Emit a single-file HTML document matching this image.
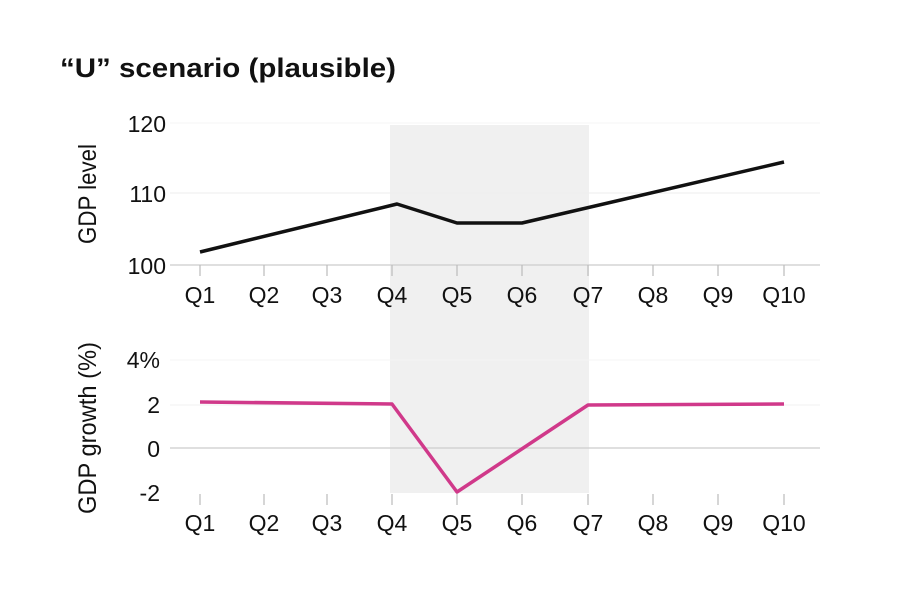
<!DOCTYPE html>
<html><head><meta charset="utf-8"><style>
html,body{margin:0;padding:0;background:#fff;}
</style></head><body>
<svg width="900" height="600" viewBox="0 0 900 600" xmlns="http://www.w3.org/2000/svg" font-family="Liberation Sans, sans-serif">
<rect width="900" height="600" fill="#fff"/>
<text x="60" y="77" font-size="27" font-weight="bold" fill="#111" textLength="336" lengthAdjust="spacingAndGlyphs">“U” scenario (plausible)</text>
<rect x="390" y="125" width="199" height="368" fill="#f0f0f0"/>
<line x1="170" y1="193" x2="820" y2="193" stroke="#eee" stroke-width="1"/>
<line x1="170" y1="123" x2="820" y2="123" stroke="#f4f4f4" stroke-width="1"/>
<line x1="170" y1="265" x2="820" y2="265" stroke="#ccc" stroke-width="1.2"/>
<g font-size="23" fill="#111" text-anchor="end">
<text x="166" y="132">120</text><text x="166" y="202">110</text><text x="166" y="274">100</text>
</g>
<text transform="translate(96,194) rotate(-90)" font-size="25" fill="#111" text-anchor="middle" textLength="100" lengthAdjust="spacingAndGlyphs">GDP level</text>
<polyline points="200,252 397,204 457,223 522,223 784,162" fill="none" stroke="#111" stroke-width="3.5" stroke-linejoin="round"/>
<g stroke="#bbb" stroke-width="1.2">
<line x1="200" y1="265" x2="200" y2="276"/><line x1="264" y1="265" x2="264" y2="276"/><line x1="327" y1="265" x2="327" y2="276"/><line x1="392" y1="265" x2="392" y2="276"/><line x1="457" y1="265" x2="457" y2="276"/><line x1="522" y1="265" x2="522" y2="276"/><line x1="588" y1="265" x2="588" y2="276"/><line x1="653" y1="265" x2="653" y2="276"/><line x1="718" y1="265" x2="718" y2="276"/><line x1="784" y1="265" x2="784" y2="276"/>
</g>
<g font-size="23" fill="#111" text-anchor="middle">
<text x="200" y="303">Q1</text><text x="264" y="303">Q2</text><text x="327" y="303">Q3</text><text x="392" y="303">Q4</text><text x="457" y="303">Q5</text><text x="522" y="303">Q6</text><text x="588" y="303">Q7</text><text x="653" y="303">Q8</text><text x="718" y="303">Q9</text><text x="784" y="303">Q10</text>
</g>
<line x1="170" y1="360" x2="820" y2="360" stroke="#f4f4f4"/>
<line x1="170" y1="405" x2="820" y2="405" stroke="#f0f0f0"/>
<line x1="170" y1="448" x2="820" y2="448" stroke="#ccc" stroke-width="1.2"/>
<g font-size="23" fill="#111" text-anchor="end">
<text x="160" y="368">4%</text><text x="160" y="413">2</text><text x="160" y="457">0</text><text x="160" y="501">-2</text>
</g>
<text transform="translate(96,428) rotate(-90)" font-size="25" fill="#111" text-anchor="middle" textLength="172" lengthAdjust="spacingAndGlyphs">GDP growth (%)</text>
<polyline points="200,402 392,404 457,492 588,405 784,404" fill="none" stroke="#d0398a" stroke-width="3.5" stroke-linejoin="round"/>
<g stroke="#bbb" stroke-width="1.2">
<line x1="200" y1="494" x2="200" y2="505"/><line x1="264" y1="494" x2="264" y2="505"/><line x1="327" y1="494" x2="327" y2="505"/><line x1="392" y1="494" x2="392" y2="505"/><line x1="457" y1="494" x2="457" y2="505"/><line x1="522" y1="494" x2="522" y2="505"/><line x1="588" y1="494" x2="588" y2="505"/><line x1="653" y1="494" x2="653" y2="505"/><line x1="718" y1="494" x2="718" y2="505"/><line x1="784" y1="494" x2="784" y2="505"/>
</g>
<g font-size="23" fill="#111" text-anchor="middle">
<text x="200" y="531">Q1</text><text x="264" y="531">Q2</text><text x="327" y="531">Q3</text><text x="392" y="531">Q4</text><text x="457" y="531">Q5</text><text x="522" y="531">Q6</text><text x="588" y="531">Q7</text><text x="653" y="531">Q8</text><text x="718" y="531">Q9</text><text x="784" y="531">Q10</text>
</g>
</svg>
</body></html>
